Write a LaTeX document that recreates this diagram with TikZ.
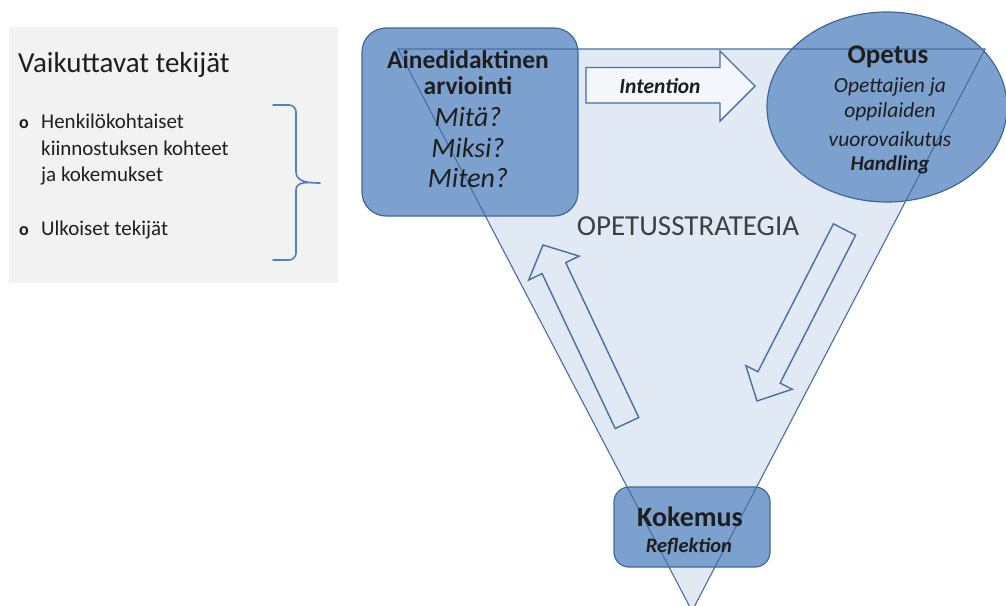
\documentclass[tikz,border=0pt]{standalone}
\usepackage{fontspec}
\setmainfont{Carlito}
\usetikzlibrary{shapes.geometric}
\definecolor{trifill}{RGB}{225,233,244}
\definecolor{tristroke}{RGB}{72,110,162}
\definecolor{boxfill}{RGB}{124,161,207}
\definecolor{boxstroke}{RGB}{66,102,152}
\definecolor{arrfill}{RGB}{243,246,250}
\definecolor{panel}{RGB}{242,242,242}
\definecolor{brace}{RGB}{79,129,189}
\definecolor{txt}{RGB}{30,30,30}
\definecolor{gtxt}{RGB}{64,64,64}
\tikzset{
  lbl/.style={anchor=base, inner sep=0pt, text=txt},
  blue box/.style={draw=boxstroke, line width=1.2pt, fill=boxfill, rounded corners=#1},
  blockarrow/.style={draw=tristroke, line width=1.4pt, line join=miter, fill=#1},
}
\begin{document}
\begin{tikzpicture}[x=1pt,y=-1pt]
\useasboundingbox (0,0) rectangle (1006,605);
\clip (0,0) rectangle (1006,605);

% left panel
\fill[panel] (9,27) rectangle (338,283);
\node[lbl, anchor=base west, font=\fontsize{29}{32}\selectfont] (title) at (18,72) {Vaikuttavat tekijät};
\node[lbl, anchor=base west, font=\bfseries\fontsize{18}{20}\selectfont] (o1) at (19,128) {o};
\node[lbl, anchor=base west, font=\fontsize{21}{27}\selectfont] (b1a) at (41,128) {Henkilökohtaiset};
\node[lbl, anchor=base west, font=\fontsize{21}{27}\selectfont] (b1b) at (41,155) {kiinnostuksen kohteet};
\node[lbl, anchor=base west, font=\fontsize{21}{27}\selectfont] (b1c) at (41,181) {ja kokemukset};
\node[lbl, anchor=base west, font=\bfseries\fontsize{18}{20}\selectfont] (o2) at (19,235) {o};
\node[lbl, anchor=base west, font=\fontsize{21}{27}\selectfont] (b2) at (41,235) {Ulkoiset tekijät};
\coordinate (brtop) at (273,105);
\coordinate (brtip) at (320,183);
\coordinate (brbot) at (273,260);
\draw[brace, line width=1.6pt, line cap=round]
  (brtop) -- (289,105) to[out=0,in=90] (296,112) -- (296,172)
  to[out=-90,in=180] (brtip)
  (brtip) to[out=180,in=90] (296,190) -- (296,253) to[out=-90,in=0] (289,260) -- (brbot);

% triangle
\coordinate (tl) at (398,49);
\coordinate (tr) at (985,49);
\coordinate (bt) at (692,611);
\fill[trifill] (tl) -- (tr) -- (bt) -- cycle;

% Intention arrow
\draw[blockarrow=arrfill] (586,67.5) -- (720,67.5) -- (720,51) -- (755,86) -- (720,121) -- (720,103) -- (586,103) -- cycle;
\node[lbl, font=\bfseries\itshape\fontsize{21.5}{24}\selectfont] (intention) at (660,93) {Intention};

% diagonal arrows
\draw[blockarrow=trifill] (833.4,223.8) -- (855.6,235.2) -- (780.1,383.1) -- (792.2,389.2) -- (757,401) -- (745.8,365.6) -- (757.9,371.7) -- cycle;
\draw[blockarrow=trifill] (638.8,417.5) -- (565.7,262.6) -- (579.2,256.1) -- (543,245) -- (528.6,280.1) -- (542.1,273.6) -- (615.2,428.5) -- cycle;

\node[lbl, text=gtxt, font=\fontsize{29}{32}\selectfont] (strategy) at (688,235) {OPETUSSTRATEGIA};

% boxes
\node[blue box=24pt, minimum width=216pt, minimum height=188pt] (aine) at (470,122) {};
\node[draw=boxstroke, line width=1.2pt, fill=boxfill, ellipse, minimum width=240pt, minimum height=190pt] (opetus) at (887,107) {};
\node[blue box=15pt, minimum width=156pt, minimum height=80pt] (koke) at (692,527) {};

% triangle outline on top
\draw[tristroke, line width=1.1pt, line join=miter] (tl) -- (tr) -- (bt) -- cycle;

% texts
\node[lbl, font=\bfseries\fontsize{25.5}{27}\selectfont] (aine1) at (468,68) {Ainedidaktinen};
\node[lbl, font=\bfseries\fontsize{25.5}{27}\selectfont] (aine2) at (468,94) {arviointi};
\node[lbl, font=\itshape\fontsize{28}{31}\selectfont] (aine3) at (468,126) {Mitä?};
\node[lbl, font=\itshape\fontsize{28}{31}\selectfont] (aine4) at (468,157) {Miksi?};
\node[lbl, font=\itshape\fontsize{28}{31}\selectfont] (aine5) at (468,187) {Miten?};

\node[lbl, font=\bfseries\fontsize{27}{30}\selectfont] (op1) at (888,63) {Opetus};
\node[lbl, font=\itshape\fontsize{21.5}{25}\selectfont] (op2) at (890,92) {Opettajien ja};
\node[lbl, font=\itshape\fontsize{21.5}{25}\selectfont] (op3) at (890,117) {oppilaiden};
\node[lbl, font=\itshape\fontsize{21.5}{25}\selectfont] (op4) at (890,146) {vuorovaikutus};
\node[lbl, font=\bfseries\itshape\fontsize{21}{25}\selectfont] (op5) at (890,170) {Handling};

\node[lbl, font=\bfseries\fontsize{28}{30}\selectfont] (k1) at (690,526) {Kokemus};
\node[lbl, font=\bfseries\itshape\fontsize{20.5}{22}\selectfont] (k2) at (689,552) {Reflektion};
\end{tikzpicture}
\end{document}
